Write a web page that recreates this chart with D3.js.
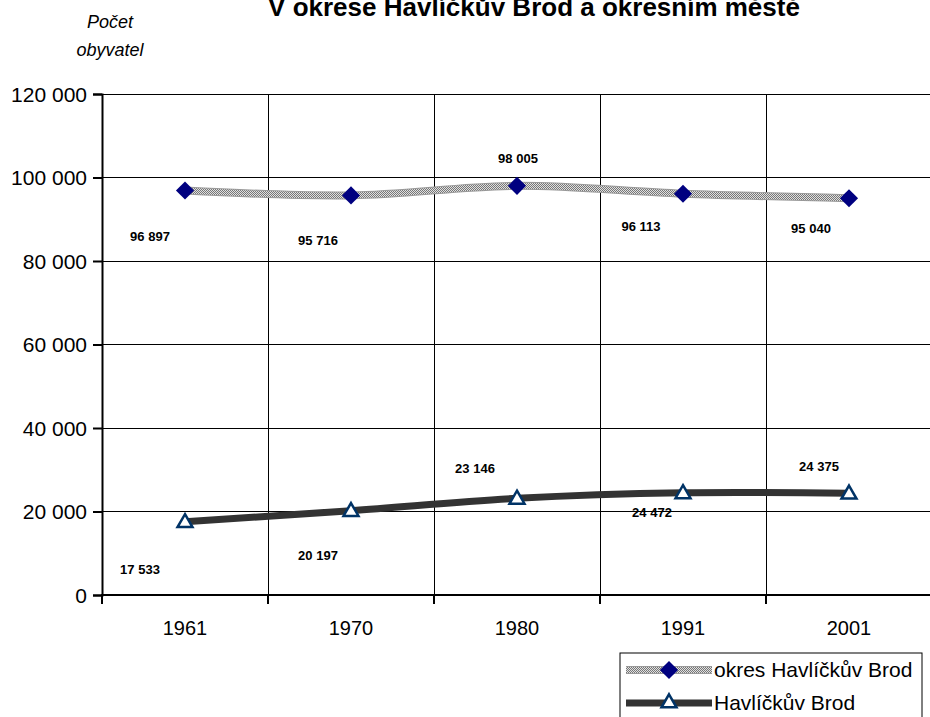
<!DOCTYPE html>
<html>
<head>
<meta charset="utf-8">
<script src="https://cdn.jsdelivr.net/npm/d3@7"></script>
<style>
body { margin: 0; background: #fff; }
svg { display: block; font-family: Arial, "Liberation Sans", sans-serif; }
</style>
</head>
<body>
<svg width="930" height="717"></svg>
<script>
var years = ["1961", "1970", "1980", "1991", "2001"];
var okres = [96897, 95716, 98005, 96113, 95040];
var mesto = [17533, 20197, 23146, 24472, 24375];
var yTicks = [0, 20000, 40000, 60000, 80000, 100000, 120000];
var seriesNames = ["okres Havlíčkův Brod", "Havlíčkův Brod"];

// label offsets from the point (px), as Excel placed them
var okresOff = [[-35, 46], [-33, 45], [1, -28], [-42, 32], [-38, 30]];
var mestoOff = [[-45, 47], [-33, 44], [-42, -30], [-31, 19], [-30, -27]];

var svg = d3.select("svg"),
    plotL = 102, plotR = 932, plotT = 94, plotB = 595;

var x = d3.scaleBand().domain(years).range([plotL, plotR]),
    y = d3.scaleLinear().domain([0, 120000]).range([plotB, plotT]);

var fmt = d => d3.format(",")(d).replace(/,/g, " ");

// stipple pattern for the district line
var pat = svg.append("defs").append("pattern")
    .attr("id", "stip").attr("width", 2).attr("height", 2)
    .attr("patternUnits", "userSpaceOnUse");
pat.append("rect").attr("width", 2).attr("height", 2).attr("fill", "#e0e0e0");
pat.append("rect").attr("width", 1).attr("height", 1).attr("fill", "#777");
pat.append("rect").attr("x", 1).attr("y", 1).attr("width", 1).attr("height", 1).attr("fill", "#777");

// title (first line is out of frame)
svg.append("text").attr("x", 534).attr("y", 16).attr("text-anchor", "middle")
    .attr("font-size", 26).attr("font-weight", "bold")
    .text("V okrese Havlíčkův Brod a okresním městě");

svg.append("text").attr("text-anchor", "middle").attr("font-size", 18).attr("font-style", "italic")
    .selectAll("tspan").data(["Počet", "obyvatel"]).enter().append("tspan")
    .attr("x", 110).attr("y", (d, i) => 28 + i * 28).text(d => d);

// horizontal grid
svg.append("g").attr("shape-rendering", "crispEdges")
    .selectAll("line").data(yTicks.filter(d => d > 0)).enter().append("line")
    .attr("x1", plotL).attr("x2", plotR)
    .attr("y1", d => y(d)).attr("y2", d => y(d))
    .attr("stroke", "#000").attr("stroke-width", 1);

// vertical grid at category boundaries
svg.append("g").attr("shape-rendering", "crispEdges")
    .selectAll("line").data(years.slice(1)).enter().append("line")
    .attr("x1", d => x(d)).attr("x2", d => x(d))
    .attr("y1", plotT).attr("y2", plotB)
    .attr("stroke", "#000").attr("stroke-width", 1);

// y axis
var yAxis = svg.append("g").attr("transform", `translate(${plotL},0)`)
    .call(d3.axisLeft(y).tickValues(yTicks).tickFormat(fmt).tickSizeOuter(0).tickSize(9).tickPadding(6));
yAxis.select(".domain").attr("stroke-width", 2);
yAxis.selectAll(".tick line").attr("stroke-width", 2);
yAxis.selectAll("text").attr("font-size", 21).attr("font-family", "Arial, 'Liberation Sans', sans-serif").attr("dy", "0.35em");

// x axis with ticks at the band edges
var xg = svg.append("g").attr("transform", `translate(0,${plotB})`);
xg.append("line").attr("x1", plotL - 1).attr("x2", plotR).attr("stroke", "#000").attr("stroke-width", 2);
xg.selectAll(".tk").data(years.concat(["end"])).enter().append("line")
    .attr("x1", (d, i) => plotL + i * x.bandwidth()).attr("x2", (d, i) => plotL + i * x.bandwidth())
    .attr("y1", 0).attr("y2", 9).attr("stroke", "#000").attr("stroke-width", 2);
xg.selectAll("text").data(years).enter().append("text")
    .attr("x", d => x(d) + x.bandwidth() / 2).attr("y", 40)
    .attr("text-anchor", "middle").attr("font-size", 20).text(d => d);

var cx = d => x(d) + x.bandwidth() / 2;
var line = d3.line().x((d, i) => cx(years[i])).y(d => y(d)).curve(d3.curveCatmullRom.alpha(0.5));

// district line
svg.append("path").attr("d", line(okres)).attr("fill", "none")
    .attr("stroke", "#999").attr("stroke-width", 8);
svg.append("path").attr("d", line(okres)).attr("fill", "none")
    .attr("stroke", "url(#stip)").attr("stroke-width", 6);

// town line
svg.append("path").attr("d", line(mesto)).attr("fill", "none")
    .attr("stroke", "#333").attr("stroke-width", 7);

var diamond = d3.symbol().type(d3.symbolDiamond2).size(210);
var tri = d3.symbol().type(d3.symbolTriangle2).size(160);

svg.append("g").selectAll("path").data(okres).enter().append("path")
    .attr("d", diamond)
    .attr("transform", (d, i) => `translate(${cx(years[i])},${y(d)})`)
    .attr("fill", "#000080");

svg.append("g").selectAll("path").data(mesto).enter().append("path")
    .attr("d", tri)
    .attr("transform", (d, i) => `translate(${cx(years[i])},${y(d) + 1})`)
    .attr("fill", "#fff").attr("stroke", "#003366").attr("stroke-width", 2.5);

// data labels
function labels(vals, off) {
    svg.append("g").selectAll("text").data(vals).enter().append("text")
        .attr("x", (d, i) => cx(years[i]) + off[i][0])
        .attr("y", (d, i) => y(d) + off[i][1] + 5)
        .attr("text-anchor", "middle").attr("font-size", 13).attr("font-weight", "bold")
        .text(fmt);
}
labels(okres, okresOff);
labels(mesto, mestoOff);

// legend
var lg = svg.append("g").attr("transform", "translate(620,653)");
lg.append("rect").attr("x", 0).attr("y", 0).attr("width", 302).attr("height", 80)
    .attr("fill", "#fff").attr("stroke", "#000").attr("stroke-width", 1);
var r1 = lg.append("g").attr("transform", "translate(0,17)");
r1.append("line").attr("x1", 6).attr("x2", 92).attr("stroke", "#999").attr("stroke-width", 8);
r1.append("line").attr("x1", 6).attr("x2", 92).attr("stroke", "url(#stip)").attr("stroke-width", 6);
r1.append("path").attr("d", diamond).attr("transform", "translate(49,0)").attr("fill", "#000080");
r1.append("text").attr("x", 94).attr("y", 7).attr("font-size", 21).text(seriesNames[0]);
var r2 = lg.append("g").attr("transform", "translate(0,50)");
r2.append("line").attr("x1", 6).attr("x2", 92).attr("stroke", "#333").attr("stroke-width", 7);
r2.append("path").attr("d", tri).attr("transform", "translate(49,0)")
    .attr("fill", "#fff").attr("stroke", "#003366").attr("stroke-width", 2.5);
r2.append("text").attr("x", 94).attr("y", 7).attr("font-size", 21).text(seriesNames[1]);
</script>
</body>
</html>
